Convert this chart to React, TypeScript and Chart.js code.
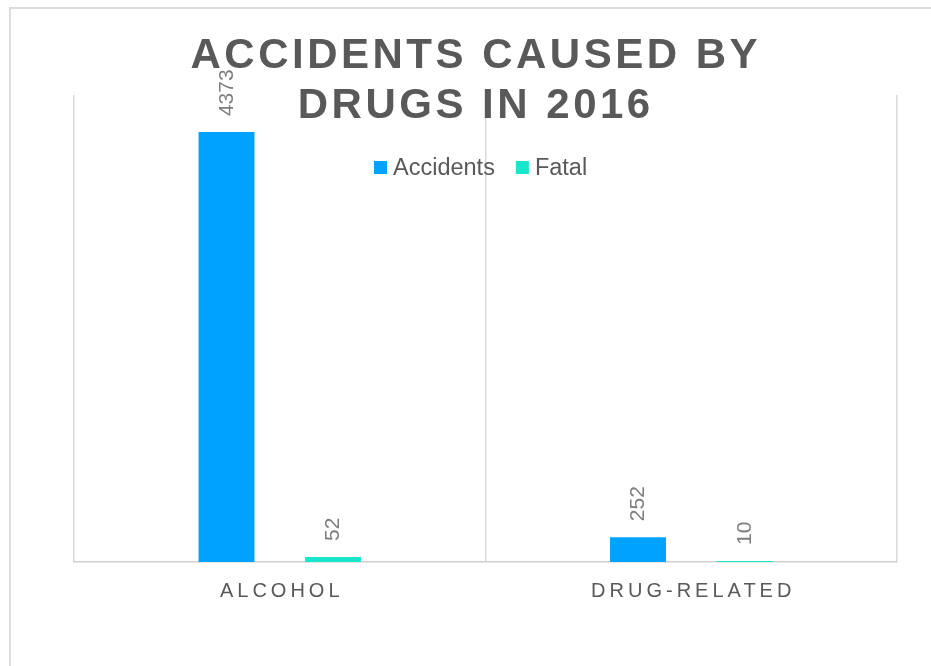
import React, { useEffect, useRef } from "react";
import { Chart, registerables } from "chart.js";

Chart.register(...registerables);

// ---- data ----
const categories = ["ALCOHOL", "DRUG-RELATED"];
const seriesNames = ["Accidents", "Fatal"];
const accidents = [4373, 252];
const fatal = [52, 10];
const titleLines = ["ACCIDENTS CAUSED BY", "DRUGS IN 2016"];
const yMin = 0;
const yMax = 4750;

// ---- styles ----
const FONT = '"Liberation Sans", Arial, sans-serif';
const BLUE = "#00A2FF";
const TEAL = "#17E6CB";
const TEXT = "#595959";
const LABEL = "#7F7F7F";
const GRID = "#D9D9D9";

const titlePlugin = {
  id: "customTitle",
  afterDraw(chart: any) {
    const ctx = chart.ctx;
    ctx.save();
    ctx.font = `bold 42px ${FONT}`;
    ctx.fillStyle = TEXT;
    ctx.textAlign = "center";
    ctx.textBaseline = "alphabetic";
    ctx.letterSpacing = "3.5px";
    titleLines.forEach((line, i) => {
      ctx.fillText(line, 474 + 1.75, 68 + i * 50);
    });
    ctx.restore();
  },
};

const legendPlugin = {
  id: "customLegend",
  afterDraw(chart: any) {
    const ctx = chart.ctx;
    ctx.save();
    ctx.font = `23.5px ${FONT}`;
    ctx.textBaseline = "alphabetic";
    ctx.textAlign = "left";
    const box = 13;
    let x = 374;
    const top = 161;
    chart.data.datasets.forEach((ds: any) => {
      ctx.fillStyle = ds.backgroundColor;
      ctx.fillRect(x, top, box, box);
      ctx.fillStyle = TEXT;
      const tx = x + box + 6;
      ctx.fillText(ds.label, tx, 174.5);
      x = tx + ctx.measureText(ds.label).width + 21;
    });
    ctx.restore();
  },
};

const xLabelPlugin = {
  id: "xLabels",
  afterDraw(chart: any) {
    const ctx = chart.ctx;
    const xs = chart.scales.x;
    ctx.save();
    ctx.font = `20px ${FONT}`;
    ctx.fillStyle = TEXT;
    ctx.textAlign = "center";
    ctx.textBaseline = "alphabetic";
    ctx.letterSpacing = "4px";
    (chart.data.labels as string[]).forEach((lab, i) => {
      ctx.fillText(lab, xs.getPixelForTick(i) + 2, chart.chartArea.bottom + 35);
    });
    ctx.restore();
  },
};

const dataLabelPlugin = {
  id: "dataLabels",
  afterDatasetsDraw(chart: any) {
    const ctx = chart.ctx;
    ctx.save();
    ctx.font = `21px ${FONT}`;
    ctx.fillStyle = LABEL;
    ctx.textAlign = "left";
    ctx.textBaseline = "middle";
    chart.data.datasets.forEach((ds: any, di: number) => {
      const meta = chart.getDatasetMeta(di);
      meta.data.forEach((bar: any, i: number) => {
        ctx.save();
        ctx.translate(bar.x + 0.5, bar.y - 16);
        ctx.rotate(-Math.PI / 2);
        ctx.fillText(String(ds.data[i]), 0, 0);
        ctx.restore();
      });
    });
    ctx.restore();
  },
};

export default function App() {
  const ref = useRef<HTMLCanvasElement | null>(null);

  useEffect(() => {
    if (!ref.current) return;
    const chart = new Chart(ref.current, {
      type: "bar",
      data: {
        labels: categories,
        datasets: [
          {
            label: seriesNames[0],
            data: accidents,
            backgroundColor: BLUE,
            borderWidth: 0,
            categoryPercentage: 0.5176,
            barPercentage: 0.525,
          },
          {
            label: seriesNames[1],
            data: fatal,
            backgroundColor: TEAL,
            borderWidth: 0,
            categoryPercentage: 0.5176,
            barPercentage: 0.525,
          },
        ],
      },
      options: {
        animation: false,
        responsive: false,
        maintainAspectRatio: false,
        devicePixelRatio: 1,
        layout: { padding: { left: 74, right: 34, top: 95, bottom: 104 } },
        plugins: {
          legend: { display: false },
          title: { display: false },
          tooltip: { enabled: false },
        },
        scales: {
          x: {
            display: true,
            offset: true,
            grid: { color: GRID, lineWidth: 1.5, drawTicks: false, offset: true },
            border: { color: "#CFCFCF", width: 1.5 },
            ticks: { display: false },
            afterFit: (s: any) => {
              s.height = 0;
            },
          },
          y: {
            display: false,
            min: yMin,
            max: yMax,
          },
        },
      },
      plugins: [dataLabelPlugin, xLabelPlugin, legendPlugin, titlePlugin],
    } as any);
    return () => chart.destroy();
  }, []);

  return (
    <div
      style={{
        position: "fixed",
        left: 0,
        top: 0,
        width: 931,
        height: 666,
        overflow: "hidden",
        background: "#fff",
      }}
    >
      <div
        style={{
          position: "absolute",
          left: 9,
          top: 7,
          width: 1000,
          height: 800,
          border: "2px solid #DCDCDC",
          boxSizing: "border-box",
        }}
      />
      <canvas
        ref={ref}
        width={931}
        height={666}
        style={{ position: "absolute", left: 0, top: 0 }}
      />
    </div>
  );
}
